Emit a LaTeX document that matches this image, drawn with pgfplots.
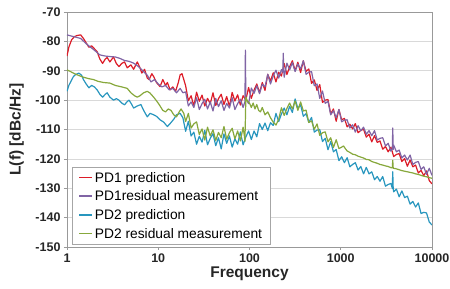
\documentclass[border=0pt]{standalone}
\usepackage{fontspec}
\setmainfont{Liberation Sans}
\usepackage{pgfplots}
\pgfplotsset{compat=1.18}
\definecolor{cRed}{RGB}{220,28,40}
\definecolor{cPur}{RGB}{128,100,165}
\definecolor{cCya}{RGB}{40,150,190}
\definecolor{cOli}{RGB}{135,168,60}
\begin{document}
\begin{tikzpicture}
\begin{axis}[
  scale only axis, width=365pt, height=235pt,
  xmin=0, xmax=4, ymin=-150, ymax=-70,
  xtick={0,1,2,3,4}, xticklabels={1,10,100,1000,10000},
  ytick={-150,-140,-130,-120,-110,-100,-90,-80,-70},
  xtick pos=lower, ytick pos=left,
  ymajorgrids, grid style={draw=black!15, line width=0.6pt},
  axis line style={draw=black!40, line width=0.7pt},
  tick style={draw=black!40, line width=0.6pt},
  tick align=outside, major tick length=3pt,
  /pgf/number format/assume math mode=true,
  ticklabel style={font=\fontsize{12.5}{14}\selectfont\bfseries, text=black!85},
  xlabel={Frequency}, ylabel={L(f) [dBc/Hz]},
  label style={font=\fontsize{15.5}{18}\selectfont\bfseries, text=black!85},
  xlabel style={at={(axis description cs:0.5,-0.115)}, anchor=center},
  ylabel style={at={(axis description cs:-0.138,0.5)}, anchor=center},
  legend style={at={(0.014,0.009)}, anchor=south west, draw=black!35, fill=white,
    font=\fontsize{13.8}{16}\selectfont, row sep=3.2pt, inner xsep=6pt, inner ysep=3pt},
  legend cell align=left,
  legend image code/.code={\draw[#1, line width=1.6pt] (0pt,0.5pt) -- (13pt,0.5pt);},
  every axis plot/.append style={line width=1.2pt, line join=round},
]
\coordinate (o) at (rel axis cs:0,0);
% PD1 prediction
\addplot[color=cRed] coordinates {
(0.00,-85)(0.02,-82)(0.05,-79.5)(0.08,-78.4)(0.11,-78)(0.15,-77.8)(0.18,-79)(0.21,-80.5)(0.24,-82)(0.27,-81.5)
(0.30,-82.5)(0.33,-83.5)(0.36,-86)(0.39,-87.5)(0.42,-86)(0.44,-85.5)(0.47,-87)(0.51,-85.3)(0.54,-87.5)(0.57,-88.6)
(0.60,-87.5)(0.63,-87)(0.66,-89)(0.70,-88)(0.73,-89.5)(0.77,-87)(0.80,-89)(0.82,-90.8)(0.85,-89.5)(0.88,-92.5)
(0.90,-93)(0.93,-91)(0.95,-92)(0.98,-94)(1.02,-95.4)(1.05,-93)(1.08,-95)(1.10,-94)(1.13,-96.5)(1.16,-95.5)
(1.19,-97)(1.22,-94)(1.24,-91.4)(1.26,-91)(1.28,-93)
(1.30,-95.1)(1.33,-100.2)(1.36,-98.5)(1.39,-102.0)(1.42,-97.3)(1.45,-100.4)(1.48,-98.3)(1.51,-102.0)(1.54,-99.4)(1.57,-101.2)
(1.60,-97.5)(1.63,-101.8)(1.66,-99.5)(1.69,-98.0)(1.72,-101.5)(1.75,-98.8)(1.78,-102.1)(1.81,-97.4)(1.84,-100.3)(1.87,-98.2)
(1.90,-101.7)(1.93,-98.5)(1.96,-99.9)(1.99,-95.7)(2.02,-99.4)(2.05,-96.6)(2.08,-94.5)(2.11,-97.5)(2.14,-94.0)(2.17,-96.7)
(2.20,-91.2)(2.23,-93.5)(2.26,-90.7)(2.29,-93.8)(2.32,-90.5)(2.35,-91.8)(2.38,-87.5)(2.41,-91.3)(2.44,-88.6)(2.47,-86.6)
(2.50,-90.0)(2.53,-87.1)(2.56,-90.6)(2.59,-86.6)(2.62,-90.2)(2.65,-89.4)(2.68,-94.3)(2.71,-93.1)(2.74,-96.7)(2.77,-94.7)
(2.80,-100.8)(2.83,-100.0)(2.86,-99.8)(2.89,-104.7)(2.92,-103.0)(2.95,-107.2)(2.98,-103.2)(3.01,-106.7)(3.04,-106.2)(3.07,-109.1)
(3.10,-108.2)(3.13,-109.8)(3.16,-108.0)(3.19,-111.1)(3.22,-110.3)(3.25,-109.9)(3.28,-112.6)(3.31,-111.6)(3.34,-114.2)(3.37,-112.1)
(3.40,-114.4)(3.43,-113.9)(3.46,-116.7)(3.49,-115.8)(3.52,-117.6)(3.55,-116.0)(3.58,-119.2)(3.61,-118.5)(3.64,-118.2)(3.67,-120.9)
(3.70,-119.9)(3.73,-122.5)(3.76,-120.4)(3.79,-122.7)(3.82,-122.1)(3.85,-124.8)(3.88,-123.9)(3.91,-125.7)(3.94,-124.1)(3.97,-127.4)
(4.00,-128.5)
};
\addlegendentry{PD1 prediction}
% PD1 residual measurement
\addplot[color=cPur] coordinates {
(0.00,-77.8)(0.05,-78.2)(0.10,-78.6)(0.15,-79)(0.20,-80.5)(0.25,-81.8)(0.30,-83)(0.36,-84.6)(0.42,-85)(0.48,-85.2)
(0.53,-85.3)(0.58,-85.8)(0.63,-86.5)(0.68,-86.8)(0.73,-87.4)(0.78,-88.5)(0.83,-90)(0.88,-91.5)(0.92,-93.8)(0.96,-93)
(1.00,-94.5)(1.04,-95.5)(1.08,-95)(1.12,-96.5)(1.16,-96)(1.20,-97.5)(1.24,-96)(1.27,-97.5)
(1.30,-97.2)(1.33,-102.0)(1.36,-100.6)(1.39,-102.5)(1.42,-99.2)(1.45,-103.2)(1.48,-101.2)(1.51,-99.7)(1.54,-103.0)(1.57,-100.6)
(1.60,-103.7)(1.63,-99.4)(1.66,-102.2)(1.69,-100.2)(1.72,-103.5)(1.75,-101.1)(1.78,-102.7)(1.81,-99.2)(1.84,-103.2)(1.87,-101.2)
(1.90,-99.7)(1.93,-102.5)(1.950,-100.5)(1.955,-83)(1.960,-99.5)(1.99,-101.2)(2.02,-95.9)(2.05,-97.7)(2.08,-95.1)(2.11,-97.8)
(2.14,-94.6)(2.17,-95.5)(2.20,-91.2)(2.23,-94.5)(2.26,-91.8)(2.29,-89.8)(2.32,-92.5)(2.35,-89.6)(2.365,-90.5)(2.37,-84)(2.375,-90)
(2.38,-92.2)(2.41,-87.4)(2.44,-89.7)(2.47,-87.2)(2.50,-90.3)(2.53,-87.7)(2.56,-89.4)(2.59,-86.6)(2.62,-91.2)(2.65,-90.5)
(2.68,-90.3)(2.71,-95.1)(2.74,-94.5)(2.77,-99.4)(2.80,-96.9)(2.83,-101.1)(2.86,-100.4)(2.89,-105.0)(2.92,-103.6)(2.95,-106.0)
(2.98,-103.2)(3.01,-107.4)(3.04,-106.8)(3.07,-106.7)(3.10,-109.5)(3.13,-108.4)(3.16,-110.9)(3.19,-108.7)(3.22,-110.4)(3.25,-109.2)
(3.28,-111.6)(3.31,-110.4)(3.34,-112.1)(3.37,-110.4)(3.40,-113.6)(3.43,-113.0)(3.46,-112.8)(3.49,-115.6)(3.52,-114.7)(3.55,-117.4)
(3.565,-116.5)(3.57,-109.5)(3.575,-116.8)(3.58,-115.3)(3.61,-117.6)(3.64,-117.0)(3.67,-119.7)(3.70,-118.7)(3.73,-120.4)(3.76,-118.7)
(3.79,-121.9)(3.82,-121.2)(3.85,-120.9)(3.88,-123.6)(3.91,-122.7)(3.94,-125.3)(3.97,-123.2)(4.00,-125.6)
};
\addlegendentry{PD1residual measurement}
% PD2 prediction
\addplot[color=cCya] coordinates {
(0.00,-97)(0.02,-95)(0.04,-93.8)(0.07,-92)(0.09,-91.4)(0.13,-90.8)(0.16,-91.5)(0.18,-93)(0.21,-94.5)(0.24,-95.8)
(0.27,-95)(0.30,-95.5)(0.33,-96.5)(0.36,-98)(0.39,-99)(0.42,-98)(0.44,-97.5)(0.47,-99)(0.51,-100)(0.54,-99.5)
(0.57,-100)(0.60,-101)(0.63,-101.6)(0.66,-100.5)(0.68,-100)(0.71,-101.5)(0.73,-102.7)(0.77,-102)(0.81,-101.5)(0.84,-103.5)
(0.88,-105.7)(0.91,-104.5)(0.95,-105)(0.98,-105.5)(1.02,-106.7)(1.06,-107.5)(1.10,-109)(1.13,-108)(1.17,-106.5)(1.20,-105)
(1.24,-104.5)(1.27,-106)
(1.30,-110.6)(1.33,-107.2)(1.36,-112.2)(1.39,-110.9)(1.42,-115.0)(1.45,-112.3)(1.48,-114.3)(1.51,-110.3)(1.54,-115.2)(1.57,-113.0)
(1.60,-111.4)(1.63,-115.5)(1.66,-112.8)(1.69,-116.6)(1.72,-111.5)(1.75,-114.7)(1.78,-112.2)(1.81,-116.0)(1.84,-113.2)(1.87,-115.0)
(1.90,-110.8)(1.93,-115.2)(1.96,-112.5)(1.99,-110.5)(2.02,-113.4)(2.05,-110.5)(2.08,-112.5)(2.11,-108.0)(2.14,-110.0)(2.17,-107.8)
(2.20,-110.4)(2.23,-107.7)(2.26,-108.6)(2.29,-104.5)(2.32,-107.3)(2.35,-104.7)(2.38,-102.7)(2.41,-105.0)(2.44,-102.1)(2.47,-104.2)
(2.50,-99.6)(2.53,-102.8)(2.56,-101.6)(2.59,-105.5)(2.62,-104.6)(2.65,-107.6)(2.68,-105.9)(2.71,-110.9)(2.74,-110.2)(2.77,-110.0)
(2.80,-114.1)(2.83,-113.0)(2.86,-116.9)(2.89,-114.1)(2.92,-117.6)(2.95,-116.8)(2.98,-120.6)(3.01,-119.3)(3.04,-121.3)(3.07,-119.6)
(3.10,-122.7)(3.13,-121.9)(3.16,-121.3)(3.19,-123.8)(3.22,-122.6)(3.25,-125.1)(3.28,-122.9)(3.31,-125.1)(3.34,-124.4)(3.37,-127.1)
(3.40,-126.0)(3.43,-127.6)(3.46,-126.0)(3.49,-129.3)(3.52,-128.7)(3.55,-128.4)(3.565,-130)(3.57,-124.4)(3.575,-130.3)(3.58,-131.2)
(3.61,-130.3)(3.64,-132.9)(3.67,-130.9)(3.70,-133.2)(3.73,-132.7)(3.76,-135.4)(3.79,-134.5)(3.82,-136.4)(3.85,-135.0)(3.88,-138.6)
(3.91,-138.2)(3.94,-138.4)(3.97,-141.5)(4.00,-142.5)
};
\addlegendentry{PD2 prediction}
% PD2 residual measurement
\addplot[color=cOli] coordinates {
(0.00,-89.7)(0.04,-90.3)(0.07,-90.8)(0.12,-91.5)(0.18,-92.2)(0.24,-92.7)(0.29,-93)(0.34,-93.6)(0.40,-94)(0.47,-94.2)
(0.53,-95)(0.60,-95.5)(0.66,-96)(0.70,-97.5)(0.74,-98.5)(0.77,-99)(0.80,-98.5)(0.84,-97.5)(0.88,-97)(0.91,-97.6)
(0.95,-99)(0.98,-100.2)(1.01,-101.5)(1.05,-103.5)(1.08,-104)(1.11,-103)(1.14,-103.5)(1.17,-105)(1.20,-105.7)(1.23,-104)
(1.25,-103)(1.28,-104.5)
(1.30,-107.3)(1.33,-104.5)(1.36,-109.5)(1.39,-108.1)(1.42,-107.4)(1.45,-111.7)(1.48,-109.8)(1.51,-113.6)(1.54,-109.2)(1.57,-112.2)
(1.60,-110.1)(1.63,-113.7)(1.66,-111.0)(1.69,-112.8)(1.72,-109.0)(1.75,-113.3)(1.78,-111.1)(1.81,-109.6)(1.84,-113.2)(1.87,-110.5)
(1.90,-113.9)(1.93,-109.2)(1.945,-112.5)(1.95,-114)(1.96,-99)(1.98,-100.5)(2.00,-101)(2.02,-102.5)(2.04,-101)(2.06,-103)
(2.08,-101.5)(2.10,-103.5)(2.12,-104)(2.14,-102.5)(2.17,-105)(2.20,-104)(2.23,-106)(2.26,-107.5)(2.29,-108.5)(2.32,-106.5)
(2.35,-102.6)(2.38,-105.2)(2.41,-102.8)(2.44,-101.0)(2.47,-103.0)(2.50,-100.3)(2.53,-103.5)(2.56,-100.6)(2.59,-103.7)(2.62,-103.4)
(2.65,-107.6)(2.68,-107.1)(2.71,-109.9)(2.74,-108.1)(2.77,-112.0)(2.80,-111.1)(2.83,-110.8)(2.86,-114.2)(2.89,-112.8)(2.92,-116.1)
(2.95,-113.5)(2.98,-116.5)(3.01,-116.0)(3.03,-115.6)(3.05,-116.5)(3.07,-117.3)(3.10,-117.8)(3.13,-118.4)(3.16,-118.6)(3.19,-119.1)
(3.22,-119.4)(3.25,-119.7)(3.28,-120.2)(3.31,-120.3)(3.34,-120.9)(3.37,-121.2)(3.40,-121.5)(3.43,-121.9)(3.46,-122.1)(3.49,-122.4)
(3.52,-122.6)(3.55,-123.0)(3.565,-123.0)(3.57,-120.5)(3.575,-123.2)(3.60,-123.3)(3.64,-123.7)(3.67,-124.0)(3.70,-124.2)(3.73,-124.4)
(3.76,-124.6)(3.79,-124.8)(3.82,-125.1)(3.85,-125.3)(3.88,-125.6)(3.91,-125.9)(3.94,-126.1)(3.97,-126.4)(4.00,-126.6)
};
\addlegendentry{PD2 residual measurement}
\end{axis}
\pgfresetboundingbox
\path[use as bounding box] ([shift={(-67pt,-42pt)}]o) rectangle ([shift={(383pt,247pt)}]o);
\end{tikzpicture}
\end{document}
